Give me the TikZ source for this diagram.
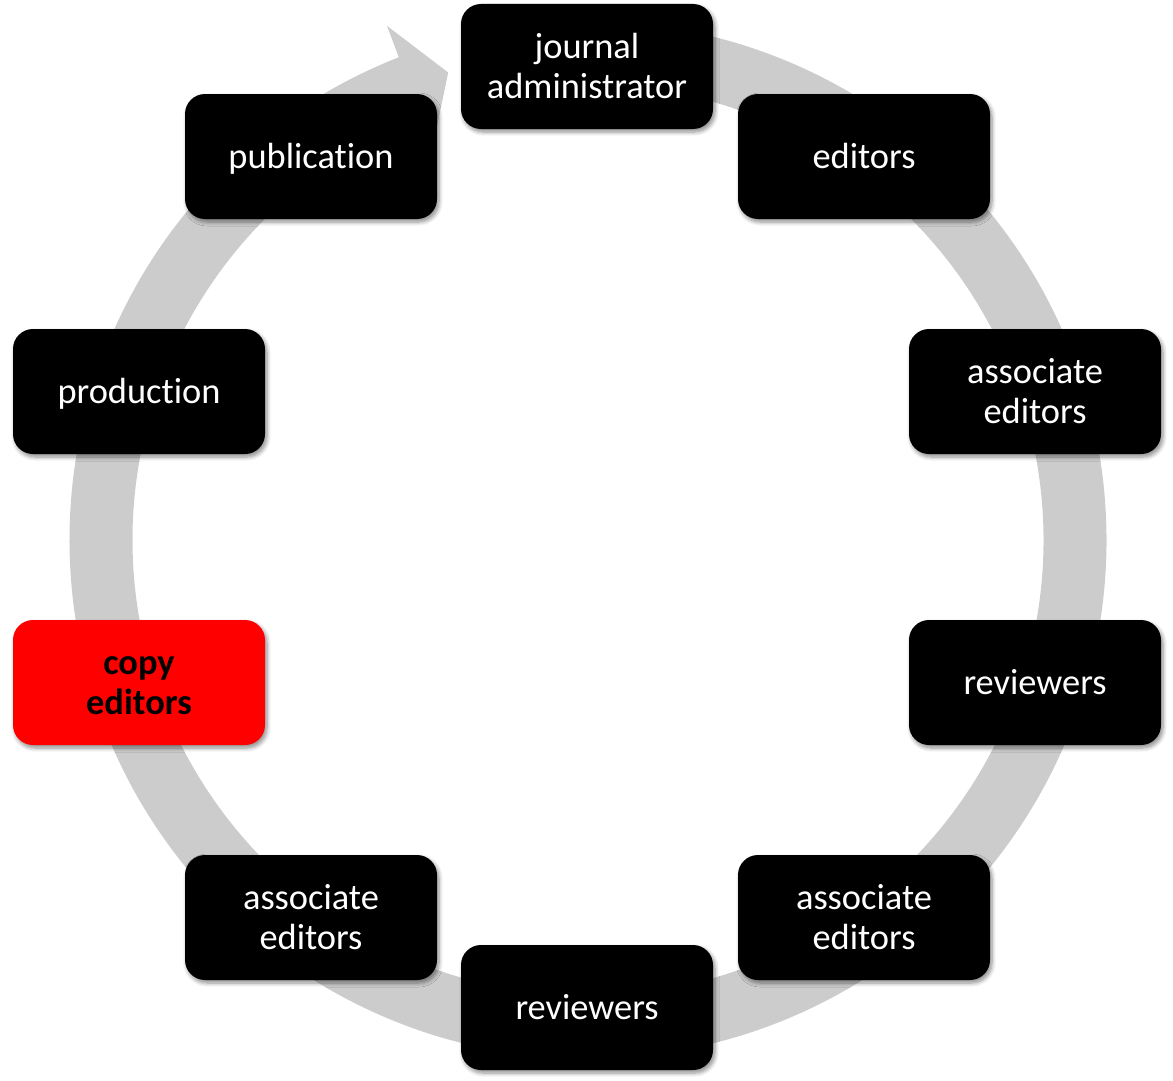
\documentclass[tikz,border=0pt]{standalone}
\usepackage{fontspec}
\setmainfont{Carlito}[Ligatures={NoCommon}]
\usetikzlibrary{shadows.blur}
\definecolor{ringgray}{HTML}{CCCCCC}
\definecolor{hotred}{HTML}{FF0000}
\newcommand{\st}{\rule[-0.25em]{0pt}{1em}}
\newcommand{\sth}{\rule[-0.25em]{0pt}{1.165em}}
\begin{document}
\begin{tikzpicture}[x=1pt,y=1pt,
  box/.style={rounded corners=20pt, minimum width=252pt, minimum height=125pt,
    inner sep=0pt, align=center, fill=black, text=white,
    font=\fontsize{36.4}{40}\selectfont,
    blur shadow={shadow xshift=2pt, shadow yshift=-3pt, shadow blur radius=4pt, shadow blur steps=6, shadow opacity=45}},
  hotbox/.style={box, fill=hotred, text=black, font=\fontsize{36.4}{40}\selectfont\bfseries}]
\useasboundingbox (0,0) rectangle (1173,-1081);
\coordinate (c) at (588,-540);
% ring
\draw[line width=63pt, ringgray] ([shift={(95:487)}]c) arc[start angle=95, end angle=-248.9, radius=487];
\fill[ringgray] ([shift={(106.65:488)}]c) -- ([shift={(111.35:552)}]c) -- ([shift={(111.6:422)}]c) -- cycle;
% boxes
\node[box] (ja) at (587,-66.5) {\sth journal\\\st administrator};
\node[box] (ed) at (864,-156.5) {\sth editors};
\node[box] (ae1) at (1035,-391.5) {\sth associate\\\st editors};
\node[box] (rv1) at (1035,-682.5) {\sth reviewers};
\node[box] (ae2) at (864,-917.5) {\sth associate\\\st editors};
\node[box] (rv2) at (587,-1007.5) {\sth reviewers};
\node[box] (ae3) at (311,-917.5) {\sth associate\\\st editors};
\node[hotbox] (ce) at (139,-682.5) {\sth copy\\\st editors};
\node[box] (pr) at (139,-391.5) {\sth production};
\node[box] (pu) at (311,-156.5) {\sth publication};
\end{tikzpicture}
\end{document}
